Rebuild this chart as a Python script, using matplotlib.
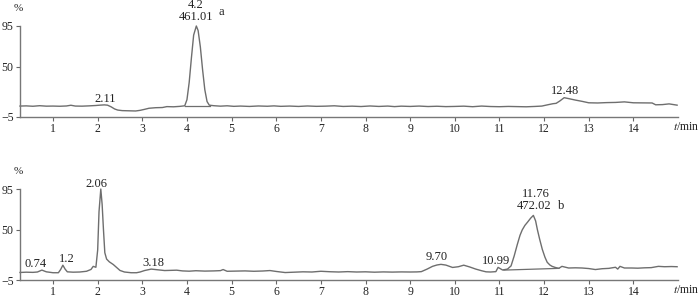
import matplotlib.pyplot as plt

plt.rcParams['font.family'] = ['Liberation Serif', 'DejaVu Serif']
plt.rcParams['mathtext.fontset'] = 'stix'

# trace a (top)
t_a = [0.26, 0.4, 0.55, 0.7, 0.85, 1.0, 1.15, 1.3, 1.4, 1.5, 1.65, 1.8, 1.95, 2.05,
       2.15, 2.22, 2.3, 2.38, 2.45, 2.55, 2.7, 2.85, 2.95, 3.05, 3.15, 3.3, 3.45,
       3.55, 3.7, 3.85, 3.95, 4.0, 4.05, 4.1, 4.15, 4.21, 4.25, 4.3, 4.35, 4.4,
       4.45, 4.5, 4.6, 4.75, 4.9, 5.05, 5.2, 5.4, 5.6, 5.8, 5.95, 6.1, 6.3, 6.5,
       6.7, 6.9, 7.1, 7.3, 7.5, 7.7, 7.9, 8.1, 8.3, 8.5, 8.65, 8.8, 9.0, 9.2,
       9.4, 9.6, 9.8, 10.0, 10.2, 10.4, 10.6, 10.8, 11.0, 11.2, 11.4, 11.6,
       11.8, 11.95, 12.1, 12.2, 12.27, 12.35, 12.45, 12.55, 12.7, 12.85, 13.0,
       13.2, 13.4, 13.6, 13.8, 14.0, 14.2, 14.42, 14.5, 14.65, 14.8, 14.98]
v_a = [7.0, 7.2, 6.8, 7.4, 6.9, 7.0, 6.8, 7.1, 7.9, 7.0, 6.9, 7.2, 7.6, 8.0,
       8.3, 8.0, 6.2, 3.8, 2.6, 2.0, 1.8, 1.6, 2.3, 3.4, 4.6, 5.2, 5.4,
       6.4, 6.2, 6.7, 7.3, 14, 33, 60, 85, 95, 90, 72, 47, 25,
       12, 8.0, 7.4, 6.9, 7.3, 6.7, 7.0, 6.6, 7.1, 6.8, 7.2, 6.7, 7.0, 6.6,
       7.1, 6.7, 6.9, 7.3, 6.6, 6.9, 6.5, 7.1, 6.6, 7.0, 6.4, 6.9, 6.6, 7.0,
       6.5, 6.8, 6.4, 6.6, 6.9, 6.3, 7.0, 6.5, 6.3, 6.6, 6.4, 6.2,
       6.6, 7.0, 8.6, 9.6, 10.0, 12.5, 16.2, 15.2, 13.6, 12.2, 10.6,
       10.4, 10.8, 11.0, 11.6, 10.6, 10.5, 10.4, 8.4, 8.6, 9.4, 8.0]

# trace b (bottom)
t_b = [0.26, 0.4, 0.55, 0.65, 0.75, 0.85, 1.0, 1.12, 1.17, 1.22, 1.27, 1.32, 1.45,
       1.6, 1.75, 1.85, 1.9, 1.96, 2.0, 2.03, 2.07, 2.1, 2.13, 2.16, 2.2, 2.26,
       2.35, 2.43, 2.5, 2.6, 2.75, 2.87, 2.95, 3.05, 3.2, 3.35, 3.5, 3.65, 3.77,
       3.9, 4.05, 4.2, 4.4, 4.6, 4.75, 4.81, 4.9, 5.1, 5.3, 5.5, 5.7, 5.86, 6.0,
       6.2, 6.4, 6.6, 6.8, 7.0, 7.2, 7.4, 7.6, 7.8, 8.0, 8.2, 8.4, 8.6, 8.8,
       9.0, 9.15, 9.25, 9.38, 9.5, 9.6, 9.69, 9.8, 9.95, 10.08, 10.2, 10.33,
       10.47, 10.6, 10.7, 10.8, 10.92, 10.97, 11.02, 11.07, 11.18, 11.26, 11.33,
       11.4, 11.46, 11.51, 11.57, 11.63, 11.7, 11.76, 11.81, 11.85, 11.9,
       11.96, 12.02, 12.07, 12.13, 12.18, 12.25, 12.33, 12.4, 12.48, 12.55,
       12.7, 12.85, 13.0, 13.15, 13.3, 13.45, 13.6, 13.65, 13.7, 13.8, 13.96,
       14.1, 14.25, 14.4, 14.56, 14.7, 14.85, 14.98]
v_b = [3.3, 3.6, 3.4, 3.8, 5.9, 4.0, 3.0, 3.0, 6.5, 11.3, 7.0, 4.0, 3.6,
       3.8, 4.6, 6.6, 10.0, 9.0, 28, 70, 95, 78, 50, 25, 18, 15.0,
       12.0, 8.5, 5.5, 3.8, 3.0, 3.0, 3.8, 5.4, 7.0, 6.2, 5.4, 5.6, 5.8,
       5.0, 4.7, 5.2, 4.8, 5.0, 5.3, 6.5, 4.6, 4.8, 5.0, 4.6, 4.9, 5.4, 4.4,
       3.2, 3.6, 4.0, 3.8, 4.6, 4.1, 3.8, 4.2, 3.8, 4.0, 3.6, 3.9, 3.7, 3.9,
       3.8, 3.9, 4.2, 7.0, 10.0, 11.5, 12.2, 11.4, 8.8, 9.6, 11.3, 9.4,
       7.0, 5.2, 4.0, 3.8, 4.2, 8.9, 7.5, 6.0, 7.0, 10.5, 21.4,
       34, 44, 50, 55, 58.6, 63, 66, 60, 50.4, 40,
       28.7, 20, 14.5, 11.5, 10.0, 8.8, 7.8, 10.0, 9.0, 8.2,
       8.4, 8.2, 7.6, 6.5, 7.4, 7.8, 9.0, 7.0, 10.0, 8.2, 8.2,
       8.0, 8.4, 8.6, 10.0, 9.6, 9.8, 9.6]

# integration baselines
base_a_t = [3.95, 4.52]
base_a_v = [7.0, 7.0]
base_b_t = [11.1, 12.33]
base_b_v = [5.9, 7.8]

xticks = list(range(1, 15))
yticks = [-5, 50, 95]

# peak labels: (text, t, value)
labels_a = [('4.2', 4.2, 118), ('461.01', 4.2, 105), ('a', 4.76, 110),
            ('2.11', 2.16, 14.8), ('12.48', 12.48, 23.6)]
labels_b = [('2.06', 1.98, 101), ('0.74', 0.6, 12.4), ('1.2', 1.31, 18.6),
            ('3.18', 3.24, 13.5), ('9.70', 9.6, 20.7), ('10.99', 10.93, 16),
            ('11.76', 11.82, 89.2), ('472.02', 11.77, 75.8), ('b', 12.38, 75.8)]

fig = plt.figure(figsize=(7, 2.97), dpi=100)
ax1 = fig.add_axes([20 / 700, 0.6061, 658 / 700, 0.3064])
ax2 = fig.add_axes([20 / 700, 0.0572, 658 / 700, 0.3064])

line_c = '#6e6e6e'
for ax, t, v, bt, bv, labels in [(ax1, t_a, v_a, base_a_t, base_a_v, labels_a),
                                 (ax2, t_b, v_b, base_b_t, base_b_v, labels_b)]:
    ax.plot(t, v, color=line_c, lw=1.0, clip_on=False)
    ax.plot(bt, bv, color=line_c, lw=0.9, clip_on=False)
    ax.set_xlim(0.26, 15.0)
    ax.set_ylim(-5, 95)
    ax.set_xticks(xticks)
    ax.set_yticks(yticks)
    ax.tick_params(axis='both', direction='out', length=3, width=0.8,
                   colors='#666666', labelcolor='#222222', labelsize=8.5, pad=1.5)
    ax.spines['top'].set_visible(False)
    ax.spines['right'].set_visible(False)
    for s in ['left', 'bottom']:
        ax.spines[s].set_color('#777777')
        ax.spines[s].set_linewidth(1.0)
    for txt, x, y in labels:
        ax.text(x, y, txt, ha='center', va='center', fontsize=9,
                color='#222222', clip_on=False)
    ax.text(-0.003, 1.19, '%', transform=ax.transAxes, ha='center',
            va='center', fontsize=8, color='#222222')
    ax.text(1.013, -0.115, '$t$/min', transform=ax.transAxes, ha='center',
            va='center', fontsize=8.5, color='#222222')

fig.savefig('out.png', dpi=100)
